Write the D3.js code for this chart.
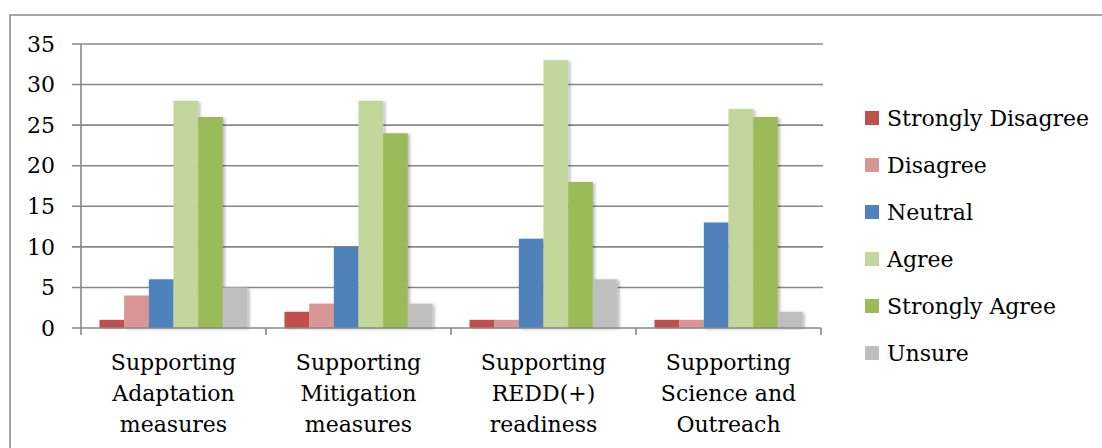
<!DOCTYPE html>
<html>
<head>
<meta charset="utf-8">
<script src="https://cdn.jsdelivr.net/npm/d3@7"></script>
<style>
  html, body { margin: 0; padding: 0; background: #ffffff; }
  svg { display: block; }
  text { font-family: "DejaVu Serif", "Liberation Serif", serif; fill: #000000; }
</style>
</head>
<body>
<svg id="chart" width="1102" height="448"></svg>
<script>
// Survey responses per category
const categories = [
  "Supporting Adaptation measures",
  "Supporting Mitigation measures",
  "Supporting REDD(+) readiness",
  "Supporting Science and Outreach"
];
const categoryLines = [
  ["Supporting", "Adaptation", "measures"],
  ["Supporting", "Mitigation", "measures"],
  ["Supporting", "REDD(+)", "readiness"],
  ["Supporting", "Science and", "Outreach"]
];
const seriesNames = ["Strongly Disagree", "Disagree", "Neutral", "Agree", "Strongly Agree", "Unsure"];
const stronglyDisagree = [1, 2, 1, 1];
const disagree         = [4, 3, 1, 1];
const neutral          = [6, 10, 11, 13];
const agree            = [28, 28, 33, 27];
const stronglyAgree    = [26, 24, 18, 26];
const unsure           = [5, 3, 6, 2];
const yTicks = [0, 5, 10, 15, 20, 25, 30, 35];

const seriesValues = [stronglyDisagree, disagree, neutral, agree, stronglyAgree, unsure];
const colors = ["#C0504D", "#DA9694", "#4F81BD", "#C3D69B", "#9BBB59", "#BFBFBF"];

const svg = d3.select("#chart");
const gridColor = "#888888";

// drop shadow for the bars
const defs = svg.append("defs");
const f = defs.append("filter").attr("id", "shadow")
  .attr("x", "-20%").attr("y", "-5%").attr("width", "150%").attr("height", "115%");
f.append("feDropShadow").attr("dx", 2).attr("dy", 1).attr("stdDeviation", 1.6)
  .attr("flood-color", "#000").attr("flood-opacity", 0.28);

// frame
svg.append("path")
  .attr("d", "M10,448 L10,15 L1102,15")
  .attr("fill", "none").attr("stroke", "#8c8c8c").attr("stroke-width", 1.6);

const x = d3.scaleBand().domain(categories).range([81, 821]).padding(0);
const xs = d3.scaleBand().domain(seriesNames).range([18.5, x.bandwidth() - 18.5]).padding(0);
const y = d3.scaleLinear().domain([0, 35]).range([328, 44]);

// gridlines
svg.append("g").selectAll("line").data(yTicks.filter(t => t > 0)).join("line")
  .attr("x1", 72).attr("x2", 823)
  .attr("y1", d => y(d)).attr("y2", d => y(d))
  .attr("stroke", gridColor).attr("stroke-width", 1.6);

// bars
const groups = svg.append("g").selectAll("g").data(categories).join("g")
  .attr("transform", d => `translate(${x(d)},0)`);
groups.selectAll("rect")
  .data((c, ci) => seriesNames.map((s, si) => ({ s, si, v: seriesValues[si][ci] })))
  .join("rect")
  .attr("x", d => xs(d.s))
  .attr("width", xs.bandwidth())
  .attr("y", d => y(d.v))
  .attr("height", d => y(0) - y(d.v))
  .attr("fill", d => colors[d.si])
  .attr("filter", "url(#shadow)");

// axes
const axisG = svg.append("g");
axisG.append("line").attr("x1", 81).attr("x2", 81).attr("y1", y(35)).attr("y2", y(0) + 7)
  .attr("stroke", gridColor).attr("stroke-width", 1.6);
axisG.append("line").attr("x1", 72).attr("x2", 821).attr("y1", y(0)).attr("y2", y(0))
  .attr("stroke", gridColor).attr("stroke-width", 1.6);
const boundaries = categories.map(c => x(c)).concat([x(categories[categories.length - 1]) + x.bandwidth()]);
axisG.selectAll("line.tick").data(boundaries.slice(1)).join("line")
  .attr("class", "tick")
  .attr("x1", d => d).attr("x2", d => d)
  .attr("y1", y(0)).attr("y2", y(0) + 7)
  .attr("stroke", gridColor).attr("stroke-width", 1.6);

// y tick labels
svg.append("g").selectAll("text").data(yTicks).join("text")
  .attr("x", 55).attr("y", d => y(d))
  .attr("dy", "0.35em")
  .attr("text-anchor", "end")
  .style("font-size", "22px")
  .text(d => d);

// category labels
const labelG = svg.append("g").selectAll("text").data(categories).join("text")
  .attr("text-anchor", "middle")
  .style("font-size", "22px");
labelG.selectAll("tspan").data((c, i) => categoryLines[i].map(t => ({ t, c })))
  .join("tspan")
  .attr("x", d => x(d.c) + x.bandwidth() / 2)
  .attr("y", (d, i) => 362 + i * 31)
  .attr("dy", "0.35em")
  .text(d => d.t);

// legend
const legend = svg.append("g").selectAll("g").data(seriesNames).join("g")
  .attr("transform", (d, i) => `translate(865,${118 + i * 47})`);
legend.append("rect").attr("x", 0).attr("y", -7).attr("width", 14).attr("height", 14)
  .attr("fill", (d, i) => colors[i]);
legend.append("text").attr("x", 22).attr("y", 0).attr("dy", "0.35em")
  .style("font-size", "22px")
  .text(d => d);
</script>
</body>
</html>
